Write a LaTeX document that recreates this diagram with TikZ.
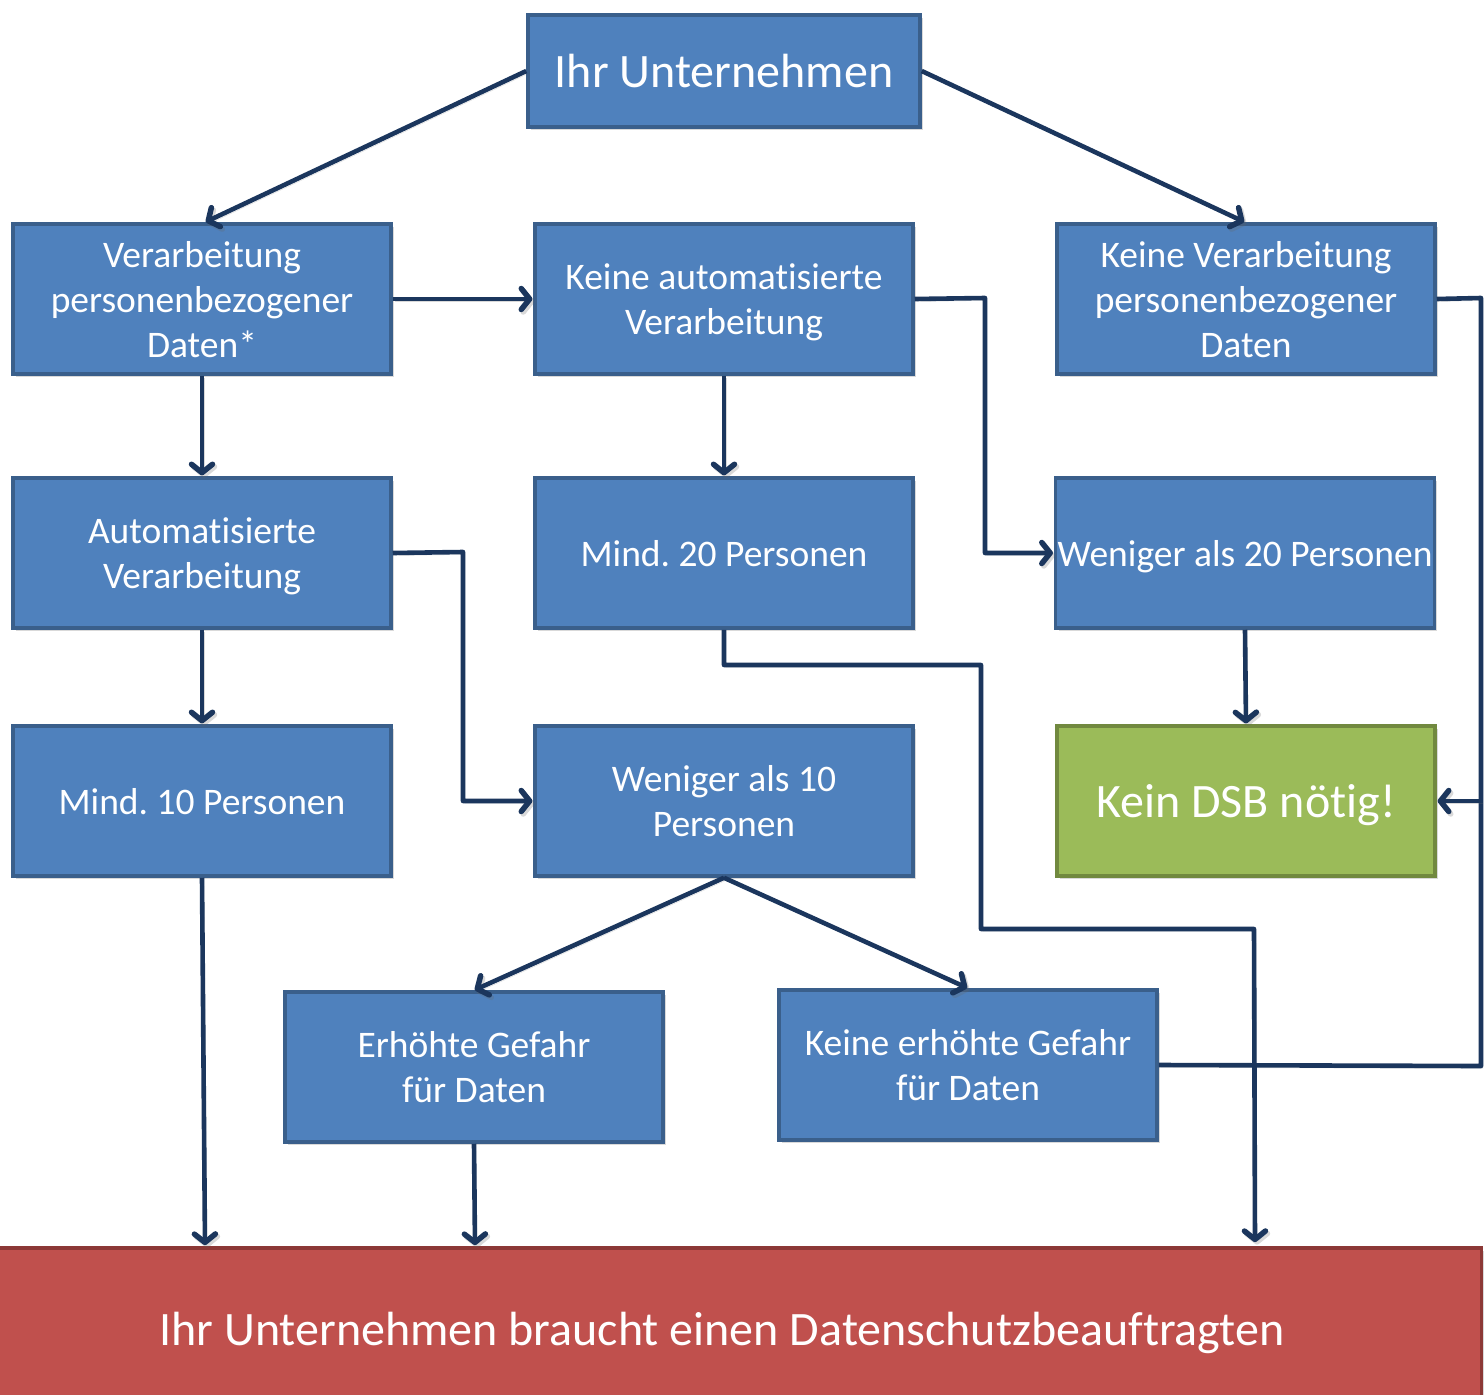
\documentclass[tikz,border=0pt]{standalone}
\usepackage{fontspec}
\setmainfont{Carlito}[RawFeature=-liga]
\usetikzlibrary{arrows.meta,shadows,calc}
\definecolor{boxfill}{HTML}{4F81BD}
\definecolor{boxline}{HTML}{3A5F8B}
\definecolor{greenfill}{HTML}{9BBB59}
\definecolor{greenline}{HTML}{71893F}
\definecolor{redfill}{HTML}{C0504D}
\definecolor{redline}{HTML}{8C3836}
\definecolor{conn}{HTML}{1B365D}
\pgfdeclarearrow{
  name=Chev,
  setup code={%
    \pgfarrowssettipend{0pt}%
    \pgfarrowssetlineend{-5pt}%
    \pgfarrowssetbackend{-15pt}%
    \pgfarrowssetvisualbackend{-6pt}%
  },
  drawing code={%
    \pgfsetdash{}{0pt}%
    \pgfsetlinewidth{5.5pt}%
    \pgfsetroundcap\pgfsetroundjoin
    \pgfpathmoveto{\pgfpoint{-12pt}{10.5pt}}%
    \pgfpathlineto{\pgfpoint{-3.6pt}{0pt}}%
    \pgfpathlineto{\pgfpoint{-12pt}{-10.5pt}}%
    \pgfusepathqstroke
  },
}
\tikzset{
  box/.style={draw=boxline, fill=boxfill, line width=3.5pt, text=white,
    minimum width=378pt, minimum height=150pt, inner sep=2pt, align=center,
    text depth=0pt,
    font=\fontsize{37.5}{45}\selectfont,
    drop shadow={opacity=0.3, shadow xshift=3pt, shadow yshift=-3pt}},
  okbox/.style={box, draw=greenline, fill=greenfill, font=\fontsize{48}{56}\selectfont},
  topbox/.style={box, minimum width=392pt, minimum height=112pt, font=\fontsize{48}{56}\selectfont},
  needbox/.style={box, draw=redline, fill=redfill, minimum width=1505pt, minimum height=170pt,
    font=\fontsize{48}{56}\selectfont},
  connplain/.style={draw=conn, line width=4.6pt, line join=round,
    preaction={draw=black!60, draw opacity=0.25, transform canvas={shift={(2pt,-2.5pt)}}}},
  conn/.style={connplain, -Chev}
}
\begin{document}
\frenchspacing
\begin{tikzpicture}[x=1pt,y=-1pt]
\useasboundingbox (0,0) rectangle (1484,1395);
\begin{scope}
\clip (0,0) rectangle (1484,1395);
\node[needbox] (R) at (729,1333) {\hspace*{-14pt}\raisebox{9pt}{Ihr Unternehmen braucht einen Datenschutzbeauftragten}};
\end{scope}
\node[topbox] (T) at (724,71) {Ihr Unternehmen};
\node[box] (A) at (202,299) {Verarbeitung\\personenbezogener\\Daten*};
\node[box] (B) at (724,299) {Keine automatisierte\\Verarbeitung};
\node[box] (C) at (1246,299) {Keine Verarbeitung\\personenbezogener\\Daten};
\node[box] (D) at (202,553) {Automatisierte\\Verarbeitung};
\node[box] (E) at (724,553) {Mind. 20 Personen};
\node[box] (F) at (1245,553) {Weniger als 20 Personen};
\node[box] (G) at (202,801) {Mind. 10 Personen};
\node[box] (H) at (724,801) {Weniger als 10\\Personen};
\node[okbox] (K) at (1246,801) {Kein DSB nötig!};
\node[box] (I) at (474,1067) {Erhöhte Gefahr\\für Daten};
\node[box] (J) at (968,1065) {Keine erhöhte Gefahr\\für Daten};

\coordinate (c1) at (985,298);
\coordinate (c2) at (985,553);
\coordinate (d1) at (463,552);
\coordinate (d2) at (463,801);
\coordinate (e1) at (724,665);
\coordinate (e2) at (981,665);
\coordinate (e3) at (981,929);
\coordinate (e4) at (1254,929);
\coordinate (e5) at (1255,1243);
\coordinate (r1) at (1481,298);
\coordinate (r2) at (1481,801);
\coordinate (r3) at (1481,1066);
\coordinate (g1) at (205,1246);
\coordinate (i1) at (475,1246);

\draw[conn] (T.west) -- ($(A.north)+(3,0)$);
\draw[conn] (T.east) -- ($(C.north)+(-1,0)$);
\draw[conn] (A.east) -- (B.west);
\draw[conn] (A.south) -- (D.north);
\draw[conn] (B.east) -- (c1) -- (c2) -- (F.west);
\draw[conn] (B.south) -- (E.north);
\draw[conn] (D.east) -- (d1) -- (d2) -- (H.west);
\draw[conn] (D.south) -- (G.north);
\draw[conn] (E.south) -- (e1) -- (e2) -- (e3) -- (e4) -- (e5);
\draw[conn] (F.south) -- (K.north);
\draw[connplain] (C.east) -- (r1) -- (r3) -- (J.east);
\draw[conn] (r2) -- (K.east);
\draw[conn] (G.south) -- (g1);
\draw[conn] (H.south) -- (I.north);
\draw[conn] (H.south) -- (J.north);
\draw[conn] (I.south) -- (i1);
\end{tikzpicture}
\end{document}
